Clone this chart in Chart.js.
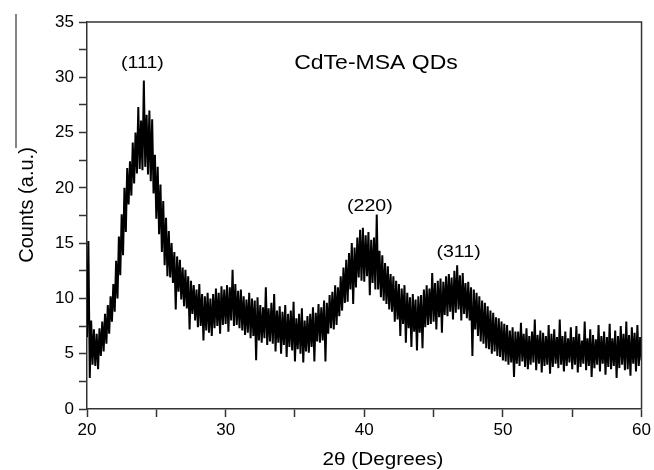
<!DOCTYPE html>
<html>
<head>
<meta charset="utf-8">
<script src="https://cdn.jsdelivr.net/npm/chart.js@4.4.1/dist/chart.umd.min.js"></script>
<style>
  html, body { margin: 0; padding: 0; background: #fff; }
  #wrap { width: 654px; height: 470px; position: relative; }
</style>
</head>
<body>
<div id="wrap"><canvas id="xrd"></canvas></div>
<script>
// XRD scan: 2theta from 20 to 60 deg, step 0.1 deg
const startAngle = 20;
const stepAngle = 0.1;

// counts, one row per degree
const counts = [
  6.5, 15.2, 2.8, 8.0, 4.0, 7.2, 3.9, 6.8, 3.6, 7.3,        // 20
  4.8, 7.9, 5.2, 8.6, 5.9, 9.4, 6.8, 10.2, 7.9, 11.3,       // 21
  8.8, 13.4, 10.0, 15.6, 12.1, 17.6, 13.9, 20.0, 16.0, 21.8, // 22
  18.5, 22.4, 19.3, 24.1, 20.4, 25.0, 21.3, 27.3, 21.7, 26.1, // 23
  21.6, 29.7, 21.9, 26.6, 21.2, 27.0, 20.6, 26.2, 19.5, 23.0, // 24
  17.2, 21.9, 15.8, 20.3, 14.2, 18.8, 13.0, 17.3, 12.0, 16.1, // 25
  11.9, 15.0, 11.4, 14.2, 9.0, 13.8, 10.6, 13.5, 9.9, 12.8,  // 26
  9.3, 12.6, 9.1, 12.0, 7.2, 11.6, 8.6, 11.2, 8.0, 10.8,     // 27
  7.4, 11.3, 7.5, 10.4, 6.2, 10.2, 7.1, 10.5, 6.9, 10.0,     // 28
  6.6, 10.4, 7.3, 10.9, 7.5, 10.5, 6.8, 11.1, 7.6, 10.8,     // 29
  7.7, 11.2, 7.0, 11.0, 8.0, 12.6, 7.5, 11.3, 7.6, 10.7,     // 30
  7.3, 10.8, 7.1, 10.2, 6.7, 9.9, 6.9, 10.5, 6.4, 10.0,      // 31
  6.6, 9.8, 4.4, 10.1, 6.2, 9.4, 6.0, 9.2, 6.4, 11.0,        // 32
  5.8, 9.1, 6.1, 9.6, 5.9, 10.4, 5.2, 8.9, 6.0, 9.3,         // 33
  5.0, 8.8, 5.8, 9.4, 4.7, 8.6, 5.6, 8.9, 5.3, 9.7,          // 34
  4.3, 8.2, 5.4, 8.6, 5.0, 9.1, 4.2, 8.0, 5.2, 8.4,          // 35
  5.1, 8.6, 5.6, 9.2, 4.3, 8.7, 6.1, 9.5, 6.0, 9.2,          // 36
  6.2, 9.8, 4.3, 9.6, 6.8, 10.3, 7.3, 10.6, 7.2, 11.2,       // 37
  7.6, 11.0, 8.4, 12.0, 8.9, 12.8, 9.6, 13.5, 9.7, 14.1,     // 38
  10.8, 15.0, 9.5, 14.6, 11.0, 15.5, 11.9, 16.2, 11.6, 16.4, // 39
  11.5, 15.7, 12.0, 16.0, 10.3, 15.3, 11.4, 15.5, 10.8, 17.6, // 40
  10.8, 14.3, 10.1, 13.9, 9.8, 13.2, 9.5, 12.9, 9.0, 12.2,   // 41
  8.8, 12.0, 7.9, 11.6, 8.1, 11.3, 6.6, 10.9, 7.7, 11.2,     // 42
  6.0, 10.5, 7.3, 10.1, 5.6, 10.4, 7.0, 9.9, 5.3, 10.2,      // 43
  6.9, 10.3, 5.5, 10.8, 7.4, 11.2, 7.6, 10.9, 7.7, 12.3,     // 44
  7.9, 11.4, 7.2, 11.6, 8.3, 11.8, 6.9, 11.5, 8.5, 12.0,     // 45
  8.4, 12.2, 8.8, 11.9, 8.1, 12.5, 8.7, 13.0, 9.0, 12.1,     // 46
  8.0, 12.3, 8.6, 11.4, 8.2, 11.5, 8.0, 11.0, 4.8, 10.8,     // 47
  7.2, 10.5, 6.6, 10.2, 6.1, 9.8, 5.9, 9.6, 5.5, 9.3,        // 48
  5.4, 8.9, 5.0, 8.7, 5.2, 8.3, 4.8, 8.2, 4.7, 7.9,          // 49
  4.4, 7.7, 4.3, 7.6, 4.0, 7.1, 4.2, 7.4, 2.9, 7.0,          // 50
  4.1, 7.0, 3.9, 7.8, 4.3, 6.8, 3.8, 7.3, 3.6, 6.6,          // 51
  4.0, 7.0, 4.2, 8.1, 3.5, 6.7, 4.1, 7.1, 3.3, 6.9,          // 52
  3.9, 6.6, 4.0, 7.6, 3.2, 6.8, 3.8, 7.2, 4.1, 6.5,          // 53
  3.7, 8.1, 4.0, 6.6, 3.4, 7.0, 3.9, 6.4, 4.2, 7.4,          // 54
  3.6, 6.5, 4.0, 7.5, 3.3, 6.8, 3.8, 6.2, 4.1, 7.9,          // 55
  3.5, 6.4, 3.9, 7.2, 2.9, 6.7, 3.7, 6.3, 4.0, 7.6,          // 56
  3.4, 6.6, 4.1, 7.0, 3.1, 6.5, 3.8, 7.7, 3.6, 6.4,          // 57
  3.9, 7.1, 2.8, 6.6, 3.7, 7.5, 4.0, 6.8, 3.5, 7.9,          // 58
  3.6, 6.7, 3.0, 7.4, 4.1, 6.9, 3.4, 7.6, 3.9, 6.5,          // 59
  4.4                                                        // 60
];

// peak labels (hkl) and where they sit
const peakLabels = ['(111)', '(220)', '(311)'];
const peakLabelX = [24.0, 40.4, 46.8];
const peakLabelY = [31.3, 18.3, 14.2];

const sampleName = 'CdTe-MSA QDs';
const xTitle = '2\u03b8 (Degrees)';
const yTitle = 'Counts (a.u.)';

const points = counts.map((c, i) => ({ x: startAngle + i * stepAngle, y: c }));

const FONT = '"Liberation Sans", Arial, sans-serif';

// frame, titles and peak labels
const decorations = {
  id: 'decorations',
  afterDraw(chart) {
    const { ctx, chartArea: a, scales } = chart;
    ctx.save();
    // top and right frame
    ctx.strokeStyle = '#333';
    ctx.lineWidth = 1.5;
    ctx.beginPath();
    ctx.moveTo(a.left, a.top);
    ctx.lineTo(a.right, a.top);
    ctx.lineTo(a.right, a.bottom);
    ctx.stroke();

    // stray line at the far left of the figure
    ctx.lineWidth = 1.2;
    ctx.beginPath();
    ctx.moveTo(16, 14);
    ctx.lineTo(16, 148);
    ctx.stroke();

    ctx.fillStyle = '#000';
    ctx.textBaseline = 'middle';
    ctx.textAlign = 'center';

    const stretched = (text, x, y, size) => {
      ctx.save();
      ctx.translate(x, y);
      ctx.scale(1.15, 1);
      ctx.font = size + 'px ' + FONT;
      ctx.fillText(text, 0, 0);
      ctx.restore();
    };

    peakLabels.forEach((t, i) => {
      stretched(t, scales.x.getPixelForValue(peakLabelX[i]), scales.y.getPixelForValue(peakLabelY[i]), 17);
    });
    stretched(sampleName, 376, 63, 20);
    stretched(xTitle, 383, 460, 18);

    // y title, rotated
    ctx.save();
    ctx.translate(27, 205);
    ctx.rotate(-Math.PI / 2);
    ctx.font = '20px ' + FONT;
    ctx.fillText(yTitle, 0, 0);
    ctx.restore();

    ctx.restore();
  }
};

new Chart(document.getElementById('xrd'), {
  type: 'line',
  data: {
    datasets: [{
      data: points,
      borderColor: '#000',
      borderWidth: 2,
      borderJoinStyle: 'bevel',
      pointRadius: 0,
      tension: 0,
      fill: false
    }]
  },
  options: {
    responsive: true,
    maintainAspectRatio: false,
    animation: false,
    layout: { padding: { top: 22, right: 10, left: 0, bottom: 0 } },
    plugins: {
      legend: { display: false },
      tooltip: { enabled: false }
    },
    scales: {
      x: {
        type: 'linear',
        min: 20,
        max: 60,
        afterFit: (s) => { s.height = 61; },
        ticks: {
          stepSize: 5,
          autoSkip: false,
          maxRotation: 0,
          padding: 3,
          color: '#000',
          font: { size: 17, family: FONT },
          callback: (v) => (v % 10 === 0 ? String(v) : '')
        },
        grid: { drawOnChartArea: false, tickLength: 8, tickColor: '#333', tickWidth: 1.5 },
        border: { color: '#333', width: 1.5 }
      },
      y: {
        min: 0,
        max: 35,
        afterFit: (s) => { s.width = 87; },
        ticks: {
          stepSize: 2.5,
          autoSkip: false,
          padding: 5,
          color: '#000',
          font: { size: 17, family: FONT },
          callback: (v) => (v % 5 === 0 ? String(v) : '')
        },
        grid: { drawOnChartArea: false, tickLength: 8, tickColor: '#333', tickWidth: 1.5 },
        border: { color: '#333', width: 1.5 }
      }
    }
  },
  plugins: [decorations]
});
</script>
</body>
</html>
